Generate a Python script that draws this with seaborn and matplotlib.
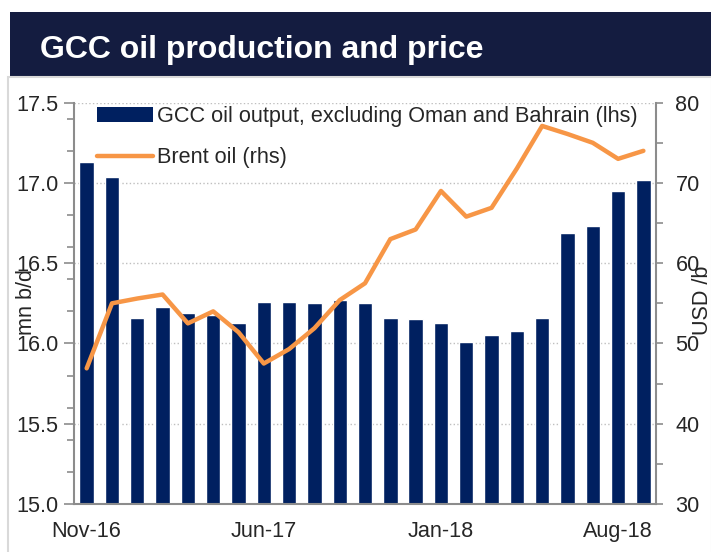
import numpy as np
import pandas as pd
import seaborn as sns
import matplotlib.pyplot as plt
from matplotlib.patches import Patch, Rectangle
from matplotlib.lines import Line2D
from matplotlib.ticker import MultipleLocator

# Monthly data, Nov-16 to Sep-18
months = ["Nov-16", "Dec-16", "Jan-17", "Feb-17", "Mar-17", "Apr-17", "May-17",
          "Jun-17", "Jul-17", "Aug-17", "Sep-17", "Oct-17", "Nov-17", "Dec-17",
          "Jan-18", "Feb-18", "Mar-18", "Apr-18", "May-18", "Jun-18", "Jul-18",
          "Aug-18", "Sep-18"]
# GCC oil output excl. Oman and Bahrain, mn b/d (lhs)
gcc_output = [17.13, 17.04, 16.16, 16.23, 16.19, 16.18, 16.13, 16.26, 16.26, 16.25,
              16.27, 16.25, 16.16, 16.15, 16.13, 16.01, 16.05, 16.08, 16.16, 16.69,
              16.73, 16.95, 17.02]
# Brent oil, USD/b (rhs)
brent = [46.9, 55.0, 55.6, 56.1, 52.5, 54.0, 51.4, 47.5, 49.3, 51.9, 55.4, 57.5,
         63.0, 64.2, 69.0, 65.8, 66.9, 71.8, 77.1, 76.1, 75.0, 73.0, 74.0]

df = pd.DataFrame({"month": months, "gcc": gcc_output, "brent": brent})
df["pos"] = np.arange(len(df))

sns.set_style("white")
plt.rcParams["font.family"] = ["Liberation Sans", "DejaVu Sans"]

navy = "#002060"
orange = "#F79646"
grey = "#8C8C8C"
fs = 15.6

fig = plt.figure(figsize=(7.11, 5.52), dpi=100)

# title banner and panel frame
fig.patches.append(Rectangle((0.0141, 0.8605), 0.99, 0.1178, transform=fig.transFigure,
                             facecolor="#141C40", edgecolor="none", zorder=0))
fig.patches.append(Rectangle((0.0113, -0.01), 0.99, 0.8705, transform=fig.transFigure,
                             facecolor="none", edgecolor="#D9D9D9", lw=1.5, zorder=0))
fig.text(0.0563, 0.8949, "GCC oil production and price", color="white",
         fontsize=23, fontweight="bold", va="baseline")

ax = fig.add_axes([0.1041, 0.0870, 0.8186, 0.7270])
sns.barplot(data=df, x="month", y="gcc", color=navy, width=0.57, saturation=1,
            ax=ax, zorder=2)
ax.set_ylim(15, 17.5)
ax.yaxis.set_major_locator(MultipleLocator(0.5))
ax.yaxis.set_minor_locator(MultipleLocator(0.2))
ax.yaxis.grid(True, which="major", linestyle=":", color="#BFBFBF", lw=1)
ax.set_axisbelow(True)
ax.set_xlabel("")
ax.set_ylabel("")

ax2 = ax.twinx()
sns.lineplot(data=df, x="pos", y="brent", color=orange, lw=3.2, ax=ax2)
ax2.set_ylim(30, 80)
ax2.yaxis.set_major_locator(MultipleLocator(10))
ax2.yaxis.set_minor_locator(MultipleLocator(5))
ax2.set_xlabel("")
ax2.set_ylabel("")

ax.set_xlim(-0.5, len(df) - 0.5)
ax.set_xticks(df["pos"][::7])
ax.set_xticklabels(df["month"][::7])

ax.tick_params(axis="x", length=0, labelsize=fs, pad=12)
ax.tick_params(axis="y", which="major", direction="out", length=7, width=1.2,
               color=grey, labelsize=fs, pad=4, left=True)
ax.tick_params(axis="y", which="minor", direction="out", length=5, width=1.2,
               color=grey, left=True)
ax2.tick_params(axis="y", which="both", direction="out", length=5, width=1.2,
                color=grey, labelsize=fs, pad=9, right=True)

ax.spines["top"].set_visible(False)
ax.spines["right"].set_visible(False)
for s in ["left", "bottom"]:
    ax.spines[s].set_color(grey)
    ax.spines[s].set_linewidth(1.5)
for s in ["top", "left", "bottom"]:
    ax2.spines[s].set_visible(False)
ax2.spines["right"].set_color(grey)
ax2.spines["right"].set_linewidth(1.5)

fig.text(27 / 711, 1 - 302 / 552, "mn b/d", rotation=90, ha="center", va="center", fontsize=fs)
fig.text(702 / 711, 1 - 300 / 552, "USD /b", rotation=90, ha="center", va="center", fontsize=fs)

handles = [Patch(facecolor=navy, edgecolor="none"),
           Line2D([], [], color=orange, lw=3.2)]
labels = ["GCC oil output, excluding Oman and Bahrain (lhs)", "Brent oil (rhs)"]
ax2.legend(handles, labels, loc="upper left", bbox_to_anchor=(0.039, 0.9925),
           frameon=False, borderpad=0, borderaxespad=0, fontsize=fs,
           handlelength=2.6, handletextpad=0.2, labelspacing=0.95)

fig.savefig("out.png", dpi=100)
